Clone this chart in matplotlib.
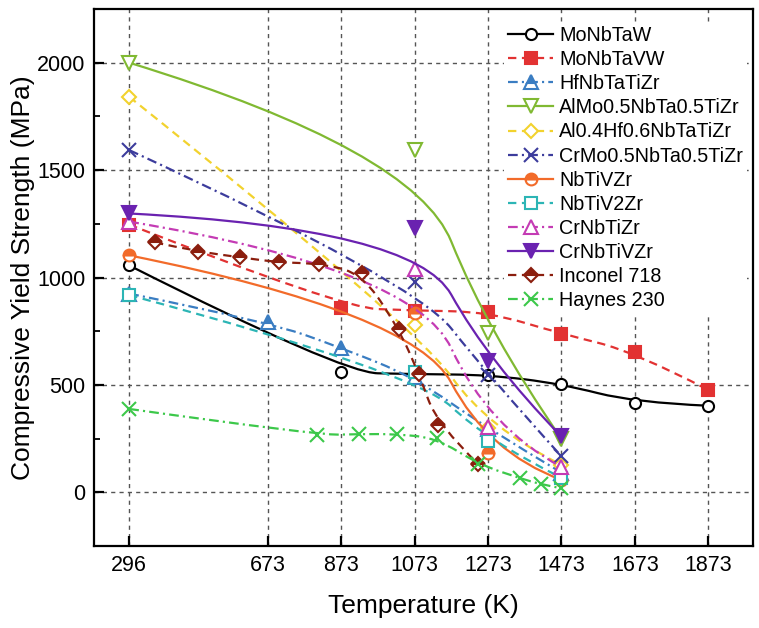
import matplotlib
matplotlib.use('Agg')
import matplotlib.pyplot as plt
import numpy as np
from matplotlib.path import Path
from matplotlib.patches import PathPatch
from matplotlib.lines import Line2D
from matplotlib.ticker import FixedLocator, MultipleLocator

plt.rcParams['font.family'] = ['Liberation Sans', 'DejaVu Sans']
plt.rcParams['lines.scale_dashes'] = False

# ---------------- data ----------------
x_ticks = [296, 673, 873, 1073, 1273, 1473, 1673, 1873]
y_ticks = [0, 500, 1000, 1500, 2000]

names = ['MoNbTaW', 'MoNbTaVW', 'HfNbTaTiZr', 'AlMo0.5NbTa0.5TiZr',
         'Al0.4Hf0.6NbTaTiZr', 'CrMo0.5NbTa0.5TiZr', 'NbTiVZr', 'NbTiV2Zr',
         'CrNbTiZr', 'CrNbTiVZr', 'Inconel 718', 'Haynes 230']

T_MoNbTaW = [296, 873, 1073, 1273, 1473, 1673, 1873]
S_MoNbTaW = [1056, 558, 550, 547, 505, 418, 403]

T_MoNbTaVW = [296, 873, 1073, 1273, 1473, 1673, 1873]
S_MoNbTaVW = [1246, 860, 846, 840, 738, 654, 477]

T_HfNbTaTiZr = [296, 673, 873, 1073, 1273, 1473]
S_HfNbTaTiZr = [925, 794, 673, 535, 295, 92]

T_AlMo = [296, 1073, 1273, 1473]
S_AlMo = [2000, 1593, 743, 250]

T_AlHf = [296, 1073, 1273, 1473]
S_AlHf = [1841, 780, 298, 128]

T_CrMo = [296, 1073, 1273, 1473]
S_CrMo = [1593, 980, 546, 168]

T_NbTiVZr = [296, 1073, 1273, 1473]
S_NbTiVZr = [1103, 836, 185, 58]

T_NbTiV2Zr = [296, 1073, 1273, 1473]
S_NbTiV2Zr = [918, 560, 238, 68]

T_CrNbTiZr = [296, 1073, 1273, 1473]
S_CrNbTiZr = [1260, 1040, 302, 118]

T_CrNbTiVZr = [296, 1073, 1273, 1473]
S_CrNbTiVZr = [1298, 1229, 612, 260]

T_Inconel = [366, 483, 597, 705, 814, 930, 1030, 1085, 1136, 1247]
S_Inconel = [1163, 1121, 1094, 1070, 1065, 1019, 762, 551, 313, 131]

T_Haynes = [296, 808, 922, 1025, 1133, 1247, 1361, 1418, 1472]
S_Haynes = [388, 266, 271, 271, 252, 131, 65, 37, 19]

series_T = [T_MoNbTaW, T_MoNbTaVW, T_HfNbTaTiZr, T_AlMo, T_AlHf, T_CrMo,
            T_NbTiVZr, T_NbTiV2Zr, T_CrNbTiZr, T_CrNbTiVZr, T_Inconel, T_Haynes]
series_S = [S_MoNbTaW, S_MoNbTaVW, S_HfNbTaTiZr, S_AlMo, S_AlHf, S_CrMo,
            S_NbTiVZr, S_NbTiV2Zr, S_CrNbTiZr, S_CrNbTiVZr, S_Inconel, S_Haynes]

# ---------------- styles ----------------
SOLID = '-'
DASH = (0, (6, 4))
DASHDOT = (0, (7, 3, 1.5, 3))

styles = [
    dict(color='black', ls=SOLID, marker='o', ms=8, mfc='white', fill='full', alt='none'),
    dict(color='#e23232', ls=DASH, marker='s', ms=8, mfc='#e23232', fill='full', alt='none'),
    dict(color='#3a7dc2', ls=DASHDOT, marker='^', ms=9.5, mfc='#3a7dc2', fill='top', alt='white'),
    dict(color='#80b932', ls=SOLID, marker='v', ms=10, mfc='white', fill='full', alt='none'),
    dict(color='#f2d22e', ls=DASH, marker='D', ms=7, mfc='white', fill='full', alt='none'),
    dict(color='#3c3c9c', ls=DASHDOT, marker='x', ms=10, mfc='none', fill='full', alt='none'),
    dict(color='#f26b2a', ls=SOLID, marker='o', ms=8.5, mfc='#f26b2a', fill='top', alt='white'),
    dict(color='#2cb5b5', ls=DASH, marker='s', ms=8, mfc='white', fill='full', alt='none'),
    dict(color='#c43bb4', ls=DASHDOT, marker='^', ms=10, mfc='white', fill='full', alt='none'),
    dict(color='#6a22b0', ls=SOLID, marker='v', ms=10, mfc='#6a22b0', fill='full', alt='none'),
    dict(color='#8b1e0e', ls=DASH, marker='D', ms=7.5, mfc='#8b1e0e', fill='top', alt='white'),
    dict(color='#3cc84a', ls=DASHDOT, marker='x', ms=10, mfc='none', fill='full', alt='none'),
]


def bspline_path(xs, ys):
    """Quadratic clamped B-spline with the data points as control points."""
    P = np.column_stack([xs, ys]).astype(float)
    n = len(P)
    if n == 2:
        return Path(P, [Path.MOVETO, Path.LINETO])
    verts = [P[0]]
    codes = [Path.MOVETO]
    for i in range(1, n - 1):
        end = P[i + 1] if i == n - 2 else (P[i] + P[i + 1]) / 2.0
        verts += [P[i], end]
        codes += [Path.CURVE3, Path.CURVE3]
    return Path(verts, codes)


fig = plt.figure(figsize=(7.59, 6.28), dpi=100)
ax = fig.add_axes([94 / 759, 1 - 546 / 628, (753 - 94) / 759, (546 - 9) / 628])

handles = []
for k, (T, S, st) in enumerate(zip(series_T, series_S, styles)):
    patch = PathPatch(bspline_path(T, S), facecolor='none', edgecolor=st['color'],
                      lw=1.6, linestyle=st['ls'], zorder=3 + 2 * k)
    ax.add_patch(patch)
    ax.plot(T, S, linestyle='none', marker=st['marker'], ms=st['ms'],
            mec=st['color'], mfc=st['mfc'], mew=1.5, fillstyle=st['fill'],
            markerfacecoloralt=st['alt'], zorder=4 + 2 * k)
    handles.append(Line2D([], [], color=st['color'], lw=1.6, linestyle=st['ls'],
                          marker=st['marker'], ms=st['ms'], mec=st['color'],
                          mfc=st['mfc'], mew=1.5, fillstyle=st['fill'],
                          markerfacecoloralt=st['alt']))

ax.set_xlim(200, 1995)
ax.set_ylim(-250, 2250)
ax.xaxis.set_major_locator(FixedLocator(x_ticks))
ax.yaxis.set_major_locator(FixedLocator(y_ticks))
ax.yaxis.set_minor_locator(MultipleLocator(250))
ax.set_xticklabels([str(t) for t in x_ticks])

ax.grid(True, which='major', color='#555555', linestyle=(0, (3, 3)), lw=1.0, zorder=1)
ax.set_axisbelow(True)

for sp in ax.spines.values():
    sp.set_linewidth(1.6)
ax.tick_params(axis='both', which='major', direction='in', length=7, width=1.6,
               labelsize=15.5)
ax.tick_params(axis='x', which='major', pad=6.5)
ax.tick_params(axis='y', which='major', pad=6)
ax.tick_params(axis='y', which='minor', direction='in', length=4, width=1.3)
ax.tick_params(axis='x', which='minor', bottom=False)

ax.set_xlabel('Temperature (K)', fontsize=19)
ax.set_ylabel('Compressive Yield Strength (MPa)', fontsize=19)
ax.xaxis.set_label_coords(0.5, -0.089)
ax.yaxis.set_label_coords(-0.089, 0.5)

leg = ax.legend(handles, names, loc='upper left',
                bbox_to_anchor=(504 / 759, 1 - 22 / 628), bbox_transform=fig.transFigure,
                frameon=True, facecolor='white', edgecolor='none', framealpha=1.0,
                fancybox=False, fontsize=14.2, handlelength=2.3, handletextpad=0.3,
                labelspacing=0.26, borderpad=0.2, borderaxespad=0)
leg.set_zorder(50)

fig.savefig('out.png', dpi=100)
